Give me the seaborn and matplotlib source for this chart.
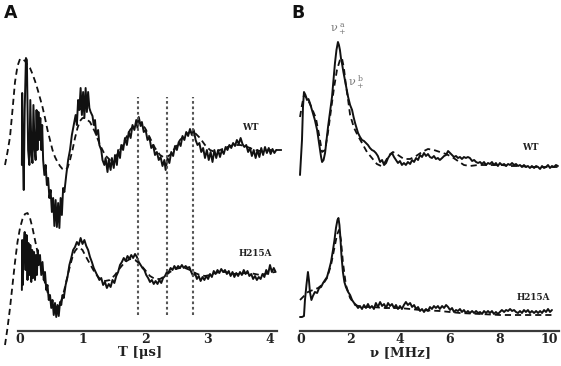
import matplotlib
matplotlib.use("Agg")
import matplotlib.pyplot as plt
import pandas as pd
import seaborn as sns

# ---- Panel A: time-domain ESEEM traces (time in us, amplitude in a.u.) ----
a_wt_t = [0.03, 0.035, 0.045, 0.06, 0.075, 0.095, 0.11, 0.13, 0.15, 0.165, 0.185, 0.2, 0.215, 0.235,
          0.25, 0.265, 0.28, 0.295, 0.31, 0.325, 0.34, 0.355, 0.37, 0.39, 0.41, 0.43, 0.45, 0.47, 0.49,
          0.51, 0.53, 0.55, 0.57, 0.59, 0.61, 0.63, 0.65, 0.67, 0.69, 0.71, 0.74, 0.77, 0.80, 0.83, 0.86,
          0.89, 0.91, 0.93, 0.95, 0.97, 0.99, 1.01, 1.03, 1.05, 1.07, 1.09, 1.11, 1.13, 1.16, 1.18, 1.20,
          1.22, 1.25, 1.27, 1.30, 1.32, 1.35, 1.37, 1.40, 1.42, 1.45, 1.47, 1.50, 1.52, 1.55, 1.57, 1.60,
          1.62, 1.65, 1.68, 1.71, 1.74, 1.77, 1.80, 1.83, 1.86, 1.88, 1.90, 1.93, 1.95, 1.98, 2.01, 2.04,
          2.07, 2.10, 2.13, 2.16, 2.19, 2.22, 2.25, 2.28, 2.31, 2.33, 2.36, 2.39, 2.42, 2.45, 2.48, 2.51,
          2.54, 2.57, 2.60, 2.63, 2.66, 2.69, 2.72, 2.75, 2.78, 2.81, 2.84, 2.87, 2.90, 2.93, 2.96, 2.99,
          3.02, 3.05, 3.08, 3.11, 3.14, 3.17, 3.20, 3.23, 3.26, 3.29, 3.32, 3.35, 3.38, 3.41, 3.44, 3.47,
          3.50, 3.53, 3.56, 3.59, 3.62, 3.65, 3.68, 3.71, 3.74, 3.77, 3.80, 3.83, 3.86, 3.89, 3.92, 3.95,
          3.98, 4.01, 4.04, 4.07, 4.10]
a_wt_v = [1.66, 2.38, 1.81, 1.41, 2.21, 2.73, 2.71, 1.81, 1.66, 2.31, 1.76, 1.68, 2.26, 1.81,
          1.71, 2.21, 1.81, 2.19, 1.91, 2.13, 1.81, 2.06, 1.71, 1.56, 1.66, 1.46, 1.53, 1.33, 1.41,
          1.19, 1.33, 1.05, 1.31, 1.04, 1.28, 1.03, 1.33, 1.16, 1.43, 1.39, 1.56, 1.71, 1.81, 1.96, 2.06,
          2.16, 2.06, 2.31, 2.21, 2.43, 2.16, 2.39, 2.13, 2.43, 2.19, 2.39, 2.23, 2.19, 2.15, 2.06, 2.11,
          1.96, 2.01, 1.86, 1.81, 1.71, 1.66, 1.73, 1.59, 1.71, 1.61, 1.73, 1.63, 1.76, 1.66, 1.81, 1.73,
          1.86, 1.81, 1.93, 1.86, 1.99, 1.93, 2.06, 2.01, 2.11, 2.03, 2.14, 2.05, 2.09, 1.99, 2.01, 1.91,
          1.94, 1.83, 1.86, 1.76, 1.79, 1.71, 1.74, 1.65, 1.71, 1.61, 1.73, 1.68, 1.79, 1.75, 1.85, 1.81,
          1.89, 1.85, 1.95, 1.91, 1.99, 1.95, 2.02, 1.96, 2.01, 1.91, 1.86, 1.88, 1.79, 1.83, 1.73, 1.81,
          1.71, 1.79, 1.69, 1.81, 1.73, 1.81, 1.74, 1.81, 1.77, 1.84, 1.81, 1.86, 1.83, 1.88, 1.85, 1.91,
          1.87, 1.93, 1.87, 1.84, 1.86, 1.79, 1.83, 1.75, 1.81, 1.73, 1.81, 1.74, 1.83, 1.76, 1.84, 1.78,
          1.83, 1.77, 1.82, 1.78, 1.81]

a_wt_fit_t = [-0.24, -0.20, -0.16, -0.12, -0.08, -0.04, 0.00, 0.04, 0.08, 0.12, 0.16, 0.20, 0.24, 0.28,
              0.32, 0.36, 0.40, 0.44, 0.48, 0.52, 0.56, 0.60, 0.64, 0.68, 0.72, 0.76, 0.80, 0.84, 0.88,
              0.92, 0.96, 1.00, 1.04, 1.12, 1.20, 1.28, 1.36, 1.44, 1.52, 1.60, 1.68, 1.76, 1.84, 1.92,
              2.00, 2.08, 2.16, 2.24, 2.32, 2.40, 2.48, 2.56, 2.64, 2.72, 2.80, 2.88, 2.96, 3.04, 3.12,
              3.20, 3.28, 3.36, 3.44, 3.52, 3.60, 3.68, 3.76, 3.84, 3.92, 4.00, 4.08, 4.16, 4.22]
a_wt_fit_v = [1.66, 1.79, 1.94, 2.21, 2.49, 2.65, 2.72, 2.72, 2.70, 2.66, 2.63, 2.57, 2.50, 2.42,
              2.33, 2.24, 2.13, 2.01, 1.91, 1.81, 1.74, 1.69, 1.65, 1.62, 1.61, 1.63, 1.71, 1.81, 1.93,
              2.03, 2.10, 2.13, 2.13, 2.09, 1.99, 1.86, 1.76, 1.71, 1.73, 1.81, 1.91, 2.01, 2.07, 2.08,
              2.03, 1.93, 1.83, 1.76, 1.73, 1.76, 1.83, 1.91, 1.96, 1.99, 1.98, 1.93, 1.86, 1.81, 1.79,
              1.81, 1.83, 1.85, 1.86, 1.86, 1.85, 1.83, 1.81, 1.80, 1.80, 1.81, 1.81, 1.81, 1.81]

a_mut_t = [0.03, 0.035, 0.045, 0.06, 0.075, 0.09, 0.105, 0.12, 0.135, 0.15, 0.165, 0.18, 0.195, 0.21,
           0.225, 0.24, 0.255, 0.27, 0.285, 0.30, 0.32, 0.34, 0.36, 0.38, 0.40, 0.42, 0.44, 0.46, 0.48,
           0.50, 0.52, 0.54, 0.56, 0.58, 0.60, 0.62, 0.64, 0.66, 0.68, 0.70, 0.73, 0.76, 0.79, 0.82, 0.85,
           0.88, 0.91, 0.94, 0.97, 1.00, 1.03, 1.06, 1.09, 1.12, 1.15, 1.18, 1.21, 1.24, 1.27, 1.30, 1.33,
           1.36, 1.39, 1.42, 1.45, 1.48, 1.51, 1.54, 1.57, 1.60, 1.63, 1.66, 1.69, 1.72, 1.75, 1.78, 1.81,
           1.84, 1.87, 1.90, 1.93, 1.96, 1.99, 2.02, 2.05, 2.08, 2.11, 2.14, 2.17, 2.20, 2.23, 2.26, 2.29,
           2.32, 2.35, 2.38, 2.41, 2.44, 2.47, 2.50, 2.53, 2.56, 2.59, 2.62, 2.65, 2.68, 2.71, 2.74, 2.77,
           2.80, 2.83, 2.86, 2.89, 2.92, 2.95, 2.98, 3.01, 3.04, 3.07, 3.10, 3.13, 3.16, 3.19, 3.22, 3.25,
           3.28, 3.31, 3.34, 3.37, 3.40, 3.43, 3.46, 3.49, 3.52, 3.55, 3.58, 3.61, 3.64, 3.67, 3.70, 3.73,
           3.76, 3.79, 3.82, 3.85, 3.88, 3.91, 3.94, 3.97, 4.00, 4.03, 4.06, 4.09]
a_mut_v = [0.41, 0.91, 0.46, 0.86, 0.99, 0.61, 0.96, 0.51, 0.88, 0.56, 0.86, 0.49, 0.81, 0.53,
           0.79, 0.51, 0.76, 0.56, 0.81, 0.66, 0.76, 0.56, 0.69, 0.51, 0.59, 0.41, 0.46, 0.31, 0.36,
           0.23, 0.31, 0.16, 0.28, 0.14, 0.26, 0.15, 0.29, 0.26, 0.36, 0.33, 0.46, 0.54, 0.66, 0.73, 0.81,
           0.84, 0.89, 0.86, 0.93, 0.87, 0.91, 0.85, 0.81, 0.74, 0.69, 0.63, 0.59, 0.55, 0.51, 0.53, 0.46,
           0.49, 0.43, 0.47, 0.44, 0.51, 0.48, 0.55, 0.59, 0.66, 0.69, 0.73, 0.70, 0.75, 0.72, 0.76, 0.73,
           0.77, 0.74, 0.69, 0.66, 0.63, 0.61, 0.56, 0.53, 0.49, 0.51, 0.47, 0.50, 0.47, 0.51, 0.48, 0.53,
           0.55, 0.59, 0.59, 0.63, 0.61, 0.65, 0.62, 0.65, 0.63, 0.66, 0.63, 0.65, 0.63, 0.64, 0.59, 0.55,
           0.58, 0.52, 0.55, 0.50, 0.54, 0.51, 0.55, 0.52, 0.57, 0.54, 0.60, 0.57, 0.61, 0.58, 0.62, 0.59,
           0.61, 0.57, 0.60, 0.55, 0.59, 0.54, 0.58, 0.55, 0.59, 0.56, 0.61, 0.57, 0.60, 0.55, 0.57, 0.52,
           0.55, 0.51, 0.54, 0.52, 0.57, 0.54, 0.61, 0.57, 0.66, 0.59, 0.63, 0.59]

a_mut_fit_t = [-0.24, -0.20, -0.16, -0.12, -0.08, -0.04, 0.00, 0.04, 0.08, 0.12, 0.16, 0.20, 0.24, 0.28,
               0.32, 0.36, 0.40, 0.44, 0.48, 0.52, 0.56, 0.60, 0.64, 0.68, 0.72, 0.76, 0.80, 0.84, 0.88,
               0.92, 0.96, 1.00, 1.04, 1.12, 1.20, 1.28, 1.36, 1.44, 1.52, 1.60, 1.68, 1.76, 1.84, 1.92,
               2.00, 2.08, 2.16, 2.24, 2.32, 2.40, 2.48, 2.56, 2.64, 2.72, 2.80, 2.88, 2.96, 3.04, 3.12,
               3.20, 3.28, 3.36, 3.44, 3.52, 3.60, 3.68, 3.76, 3.84, 3.92, 4.00, 4.08]
a_mut_fit_v = [-0.14, 0.03, 0.23, 0.46, 0.69, 0.89, 1.03, 1.12, 1.17, 1.18, 1.13, 1.03, 0.91, 0.79,
               0.68, 0.58, 0.48, 0.39, 0.32, 0.27, 0.24, 0.24, 0.27, 0.34, 0.44, 0.55, 0.65, 0.74, 0.80,
               0.83, 0.83, 0.81, 0.76, 0.67, 0.58, 0.52, 0.50, 0.51, 0.56, 0.63, 0.69, 0.72, 0.71, 0.67,
               0.61, 0.55, 0.52, 0.52, 0.55, 0.59, 0.62, 0.63, 0.63, 0.61, 0.58, 0.56, 0.55, 0.56, 0.58,
               0.59, 0.59, 0.58, 0.57, 0.57, 0.58, 0.58, 0.57, 0.56, 0.57, 0.58, 0.59]

a_marker_times = [1.88, 2.35, 2.77]
a_ticks = [0, 1, 2, 3, 4]

# ---- Panel B: frequency-domain spectra (MHz, a.u.) ----
b_wt_f = [-0.04, 0.04, 0.08, 0.12, 0.18, 0.24, 0.30, 0.36, 0.42, 0.48, 0.56, 0.65, 0.71, 0.77, 0.81,
          0.85, 0.91, 0.97, 1.03, 1.09, 1.17, 1.25, 1.31, 1.37, 1.43, 1.49, 1.53, 1.57, 1.61, 1.65, 1.71,
          1.77, 1.83, 1.90, 1.98, 2.06, 2.12, 2.18, 2.24, 2.30, 2.38, 2.46, 2.54, 2.62, 2.70, 2.78, 2.86,
          2.94, 3.02, 3.10, 3.19, 3.27, 3.35, 3.43, 3.51, 3.59, 3.67, 3.75, 3.83, 3.91, 3.99, 4.07, 4.15,
          4.23, 4.31, 4.40, 4.48, 4.56, 4.64, 4.72, 4.80, 4.88, 4.96, 5.04, 5.12, 5.20, 5.28, 5.36, 5.44,
          5.52, 5.60, 5.69, 5.77, 5.85, 5.93, 6.01, 6.09, 6.17, 6.25, 6.33, 6.41, 6.49, 6.57, 6.65, 6.73,
          6.81, 6.90, 6.98, 7.06, 7.14, 7.22, 7.30, 7.38, 7.46, 7.54, 7.62, 7.70, 7.78, 7.86, 7.94, 8.02,
          8.10, 8.19, 8.27, 8.35, 8.43, 8.51, 8.59, 8.67, 8.75, 8.83, 8.91, 8.99, 9.07, 9.15, 9.23, 9.31,
          9.40, 9.48, 9.56, 9.64, 9.72, 9.80, 9.88, 9.96, 10.04, 10.12, 10.20, 10.28, 10.36]
b_wt_v = [1.56, 1.91, 2.24, 2.39, 2.36, 2.31, 2.32, 2.28, 2.23, 2.18, 2.11, 2.01, 1.91, 1.81, 1.74,
          1.69, 1.71, 1.78, 1.91, 2.04, 2.19, 2.34, 2.51, 2.68, 2.81, 2.89, 2.86, 2.81, 2.73, 2.68, 2.59,
          2.51, 2.43, 2.34, 2.26, 2.21, 2.14, 2.08, 2.03, 1.98, 1.94, 1.91, 1.90, 1.88, 1.86, 1.83, 1.81,
          1.80, 1.78, 1.75, 1.69, 1.71, 1.66, 1.68, 1.73, 1.76, 1.78, 1.74, 1.71, 1.68, 1.70, 1.66, 1.68,
          1.66, 1.69, 1.67, 1.71, 1.69, 1.73, 1.71, 1.76, 1.74, 1.78, 1.75, 1.77, 1.74, 1.73, 1.75, 1.72,
          1.73, 1.71, 1.73, 1.75, 1.76, 1.80, 1.78, 1.76, 1.74, 1.75, 1.73, 1.74, 1.72, 1.74, 1.73, 1.74,
          1.73, 1.70, 1.71, 1.69, 1.68, 1.69, 1.67, 1.69, 1.66, 1.68, 1.67, 1.69, 1.66, 1.68, 1.65, 1.68,
          1.66, 1.67, 1.65, 1.67, 1.66, 1.68, 1.66, 1.67, 1.65, 1.66, 1.64, 1.66, 1.64, 1.65, 1.63, 1.65,
          1.63, 1.65, 1.64, 1.62, 1.65, 1.63, 1.64, 1.66, 1.63, 1.65, 1.64, 1.66, 1.65]

b_wt_fit_f = [-0.04, 0.04, 0.12, 0.24, 0.40, 0.60, 0.73, 0.85, 0.97, 1.09, 1.21, 1.33, 1.45, 1.57, 1.65,
              1.73, 1.81, 1.90, 1.98, 2.14, 2.30, 2.46, 2.66, 2.86, 3.06, 3.23, 3.39, 3.55, 3.71, 3.91,
              4.15, 4.40, 4.64, 4.88, 5.12, 5.36, 5.60, 5.85, 6.09, 6.33, 6.57, 6.81, 7.14, 7.46, 7.78,
              8.10, 8.43, 8.83, 9.23, 9.64, 10.04, 10.36]
b_wt_fit_v = [2.14, 2.26, 2.36, 2.33, 2.25, 2.13, 1.96, 1.79, 1.81, 1.99, 2.21, 2.43, 2.61, 2.71, 2.73,
              2.63, 2.46, 2.31, 2.16, 2.03, 1.95, 1.88, 1.79, 1.73, 1.67, 1.65, 1.69, 1.76, 1.79, 1.76,
              1.72, 1.72, 1.75, 1.79, 1.82, 1.81, 1.79, 1.77, 1.74, 1.70, 1.66, 1.65, 1.66, 1.66, 1.66,
              1.66, 1.65, 1.65, 1.64, 1.64, 1.64, 1.64]

b_mut_f = [-0.04, 0.04, 0.12, 0.16, 0.22, 0.28, 0.32, 0.36, 0.42, 0.48, 0.56, 0.65, 0.73, 0.81, 0.89,
           0.97, 1.05, 1.13, 1.21, 1.29, 1.35, 1.41, 1.47, 1.51, 1.55, 1.59, 1.63, 1.69, 1.75, 1.81, 1.90,
           1.98, 2.06, 2.14, 2.22, 2.30, 2.38, 2.46, 2.54, 2.62, 2.70, 2.78, 2.86, 2.94, 3.02, 3.10, 3.19,
           3.27, 3.35, 3.43, 3.51, 3.59, 3.67, 3.75, 3.83, 3.91, 3.99, 4.07, 4.15, 4.23, 4.31, 4.40, 4.48,
           4.56, 4.64, 4.72, 4.80, 4.88, 4.96, 5.04, 5.12, 5.20, 5.28, 5.36, 5.44, 5.52, 5.60, 5.69, 5.77,
           5.85, 5.93, 6.01, 6.09, 6.17, 6.25, 6.33, 6.41, 6.49, 6.57, 6.65, 6.73, 6.81, 6.90, 6.98, 7.06,
           7.14, 7.22, 7.30, 7.38, 7.46, 7.54, 7.62, 7.70, 7.78, 7.86, 7.94, 8.02, 8.10, 8.19, 8.27, 8.35,
           8.43, 8.51, 8.59, 8.67, 8.75, 8.83, 8.91, 8.99, 9.07, 9.15, 9.23, 9.31, 9.40, 9.48, 9.56, 9.64,
           9.72, 9.80, 9.88, 9.96, 10.04, 10.12]
b_mut_v = [0.14, 0.14, 0.15, 0.31, 0.46, 0.59, 0.51, 0.39, 0.31, 0.35, 0.39, 0.38, 0.43, 0.44, 0.48,
           0.51, 0.54, 0.61, 0.69, 0.81, 0.91, 1.03, 1.11, 1.13, 1.06, 0.93, 0.76, 0.59, 0.49, 0.44, 0.39,
           0.36, 0.31, 0.28, 0.26, 0.23, 0.25, 0.22, 0.26, 0.23, 0.27, 0.23, 0.25, 0.22, 0.28, 0.24, 0.29,
           0.25, 0.27, 0.23, 0.28, 0.25, 0.27, 0.23, 0.26, 0.22, 0.25, 0.22, 0.26, 0.29, 0.26, 0.28, 0.24,
           0.26, 0.22, 0.24, 0.20, 0.22, 0.19, 0.22, 0.20, 0.24, 0.22, 0.25, 0.23, 0.25, 0.22, 0.25, 0.23,
           0.26, 0.24, 0.21, 0.23, 0.19, 0.21, 0.20, 0.22, 0.19, 0.21, 0.18, 0.20, 0.18, 0.20, 0.18, 0.20,
           0.18, 0.19, 0.17, 0.20, 0.18, 0.20, 0.18, 0.20, 0.17, 0.19, 0.17, 0.19, 0.21, 0.19, 0.21, 0.20,
           0.22, 0.20, 0.21, 0.19, 0.18, 0.20, 0.18, 0.21, 0.19, 0.21, 0.18, 0.20, 0.18, 0.20, 0.18, 0.20,
           0.18, 0.21, 0.19, 0.22, 0.19, 0.21]

b_mut_fit_f = [-0.04, 0.12, 0.28, 0.48, 0.69, 0.89, 1.05, 1.21, 1.33, 1.45, 1.53, 1.61, 1.69, 1.81, 1.98,
               2.18, 2.46, 2.86, 3.39, 3.99, 4.80, 5.60, 6.41, 7.22, 8.02, 8.83, 9.64, 10.12]
b_mut_fit_v = [0.31, 0.35, 0.39, 0.41, 0.43, 0.47, 0.53, 0.66, 0.81, 0.96, 1.01, 0.91, 0.69, 0.46, 0.33,
               0.26, 0.24, 0.24, 0.23, 0.23, 0.21, 0.20, 0.18, 0.17, 0.16, 0.16, 0.16, 0.16]

b_ticks = [0, 2, 4, 6, 8, 10]

sns.set_theme(style="white", context="notebook")
plt.rcParams["font.family"] = ["DejaVu Serif", "DejaVu Sans"]

INK = "#111111"
FIT_DASH = (0, (3.4, 2.2))
LW = 1.4

fig = plt.figure(figsize=(5.61, 3.66), dpi=100)
ax_a = fig.add_axes([0.0, 35 / 366, 285 / 561, 331 / 366])
ax_b = fig.add_axes([285 / 561, 35 / 366, 276 / 561, 331 / 366])


def trace(ax, x, y, dashed=False):
    df = pd.DataFrame({"x": x, "y": y})
    kw = dict(color=INK, linewidth=LW, clip_on=False)
    if dashed:
        kw["linestyle"] = FIT_DASH
        kw["linewidth"] = 1.3
    sns.lineplot(data=df, x="x", y="y", ax=ax, estimator=None, sort=False, legend=False, **kw)


trace(ax_a, a_wt_fit_t, a_wt_fit_v, dashed=True)
trace(ax_a, a_wt_t, a_wt_v)
trace(ax_a, a_mut_fit_t, a_mut_fit_v, dashed=True)
trace(ax_a, a_mut_t, a_mut_v)
for tm in a_marker_times:
    ax_a.plot([tm, tm], [0.16, 2.34], color="#555555", linewidth=1.5, linestyle=(0, (1.3, 1.3)))

trace(ax_b, b_wt_fit_f, b_wt_fit_v, dashed=True)
trace(ax_b, b_wt_f, b_wt_v)
trace(ax_b, b_mut_fit_f, b_mut_fit_v, dashed=True)
trace(ax_b, b_mut_f, b_mut_v)

for ax, xlim, bounds, ticks in [
    (ax_a, (-0.32, 4.24), (-0.03, 4.11), a_ticks),
    (ax_b, (-0.645, 10.484), (-0.04, 10.4), b_ticks),
]:
    ax.set_xlim(*xlim)
    ax.set_ylim(0, 3.31)
    ax.set_facecolor("none")
    for side in ["top", "left", "right"]:
        ax.spines[side].set_visible(False)
    ax.spines["bottom"].set_bounds(*bounds)
    ax.spines["bottom"].set_linewidth(1.6)
    ax.spines["bottom"].set_color("#3a3a3a")
    ax.set_xticks(ticks)
    ax.set_xticklabels([str(t) for t in ticks], fontsize=9, fontweight="bold", color="#222222")
    ax.tick_params(axis="x", length=0, pad=1.5)
    ax.set_yticks([])
    ax.set_ylabel("")
    ax.grid(False)

ax_a.set_xlabel("T [\u03bcs]", fontsize=9.5, fontweight="bold", color="#222222")
ax_a.xaxis.set_label_coords(140 / 285, -0.045)
ax_b.set_xlabel("\u03bd [MHz]", fontsize=9.5, fontweight="bold", color="#222222")
ax_b.xaxis.set_label_coords(115 / 276, -0.045)

fig.text(4 / 561, 1 - 4 / 366, "A", fontsize=12.5, fontweight="bold", family="DejaVu Sans",
         ha="left", va="top", color="#111111")
fig.text(291 / 561, 1 - 4 / 366, "B", fontsize=12.5, fontweight="bold", family="DejaVu Sans",
         ha="left", va="top", color="#111111")

lab = dict(fontsize=6.3, fontweight="bold", ha="center", va="center", color="#222222")
fig.text(250 / 561, 1 - 127 / 366, "WT", **lab)
fig.text(255 / 561, 1 - 254 / 366, "H215A", **lab)
fig.text(530 / 561, 1 - 147 / 366, "WT", **lab)
fig.text(533 / 561, 1 - 297 / 366, "H215A", **lab)

fig.text(338 / 561, 1 - 29 / 366, r"$\mathregular{\nu_+^{\ a}}$", fontsize=8, color="#777777",
         ha="center", va="center")
fig.text(356 / 561, 1 - 82 / 366, r"$\mathregular{\nu_+^{\ b}}$", fontsize=8, color="#777777",
         ha="center", va="center")

fig.savefig("out.png", dpi=100)
